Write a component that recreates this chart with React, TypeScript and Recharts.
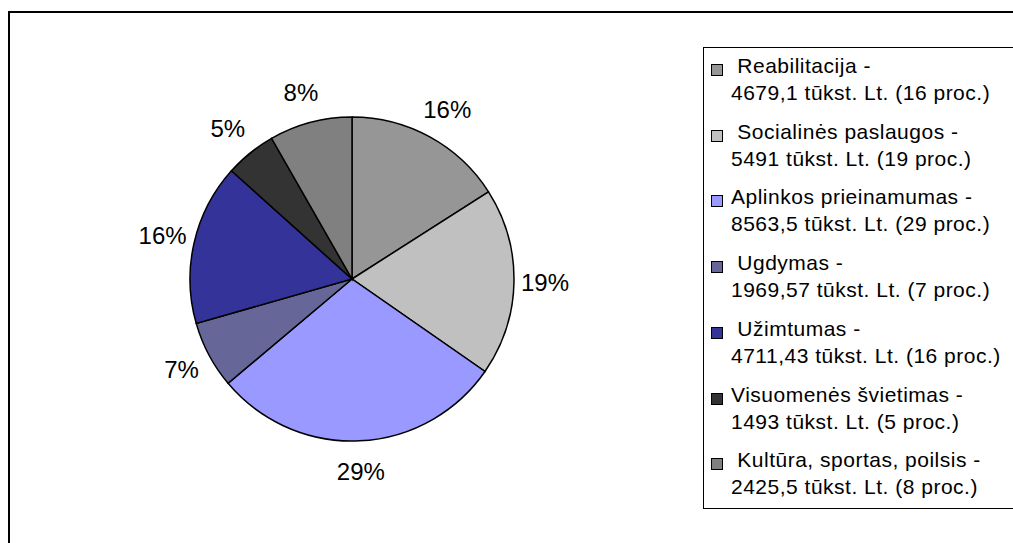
import React from "react";
import { PieChart, Pie, Cell, Legend } from "recharts";

const categories = [
  " Reabilitacija -",
  " Socialinės paslaugos -",
  "Aplinkos prieinamumas -",
  " Ugdymas -",
  " Užimtumas -",
  "Visuomenės švietimas -",
  " Kultūra, sportas, poilsis -",
];
const detailLines = [
  "4679,1 tūkst. Lt. (16 proc.)",
  "5491 tūkst. Lt. (19 proc.)",
  "8563,5 tūkst. Lt. (29 proc.)",
  "1969,57 tūkst. Lt. (7 proc.)",
  "4711,43 tūkst. Lt. (16 proc.)",
  "1493 tūkst. Lt. (5 proc.)",
  "2425,5 tūkst. Lt. (8 proc.)",
];
const values = [4679.1, 5491, 8563.5, 1969.57, 4711.43, 1493, 2425.5];
const percentLabels = ["16%", "19%", "29%", "7%", "16%", "5%", "8%"];
const colors = ["#969696", "#C0C0C0", "#9999FF", "#666699", "#333399", "#333333", "#808080"];

const data = categories.map((c, i) => ({
  name: c,
  detail: detailLines[i],
  value: values[i],
  pct: percentLabels[i],
  color: colors[i],
}));

const FONT = "'Liberation Sans', Arial, sans-serif";
const RAD = Math.PI / 180;

const renderLabel = (props: any) => {
  const { cx, cy, midAngle, outerRadius, index } = props;
  const r = outerRadius + 31;
  const cos = Math.cos(-midAngle * RAD);
  const sin = Math.sin(-midAngle * RAD);
  // small horizontal push outward for labels near the top
  const x = cx + r * cos + 6 * cos * Math.max(0, -sin);
  const y = cy + r * sin;
  return (
    <text
      x={x}
      y={y}
      textAnchor="middle"
      dominantBaseline="central"
      fontFamily={FONT}
      fontSize={24}
      fill="#000"
    >
      {percentLabels[index]}
    </text>
  );
};

const LegendContent = () => (
  <div
    style={{
      position: "absolute",
      left: 0,
      top: 0,
      width: 340,
      height: 460,
      border: "1.5px solid #000",
      background: "#fff",
      fontFamily: FONT,
      fontSize: 21,
      letterSpacing: "0.5px",
      color: "#000",
    }}
  >
    {data.map((d, i) => (
      <div
        key={i}
        style={{ position: "absolute", left: 0, top: 4 + i * 65.7, width: 340 }}
      >
        <div
          style={{
            position: "absolute",
            left: 7,
            top: 12,
            width: 10,
            height: 10,
            background: d.color,
            border: "1.5px solid #000",
          }}
        />
        <div style={{ position: "absolute", left: 27, top: 0, whiteSpace: "pre", lineHeight: "27px" }}>
          {d.name}
          <br />
          {d.detail}
        </div>
      </div>
    ))}
  </div>
);

export default function App() {
  return (
    <div
      style={{
        position: "absolute",
        left: 0,
        top: 0,
        width: 1013,
        height: 543,
        overflow: "hidden",
        background: "#fff",
      }}
    >
      <div
        style={{
          position: "absolute",
          left: 8,
          top: 11,
          width: 1100,
          height: 600,
          border: "2px solid #000",
          boxSizing: "border-box",
        }}
      />
      <div style={{ position: "absolute", left: 0, top: 0 }}>
        <PieChart width={1013} height={543} margin={{ top: 0, right: 0, bottom: 0, left: 0 }}>
          <Pie
            data={data}
            dataKey="value"
            nameKey="name"
            cx={352}
            cy={279}
            outerRadius={162}
            startAngle={90}
            endAngle={-270}
            stroke="#000"
            strokeWidth={1.5}
            label={renderLabel}
            labelLine={false}
            isAnimationActive={false}
          >
            {data.map((d, i) => (
              <Cell key={i} fill={d.color} />
            ))}
          </Pie>
          <Legend
            content={<LegendContent />}
            wrapperStyle={{ position: "absolute", left: 703, top: 47, width: 340, height: 462 }}
          />
        </PieChart>
      </div>
    </div>
  );
}
